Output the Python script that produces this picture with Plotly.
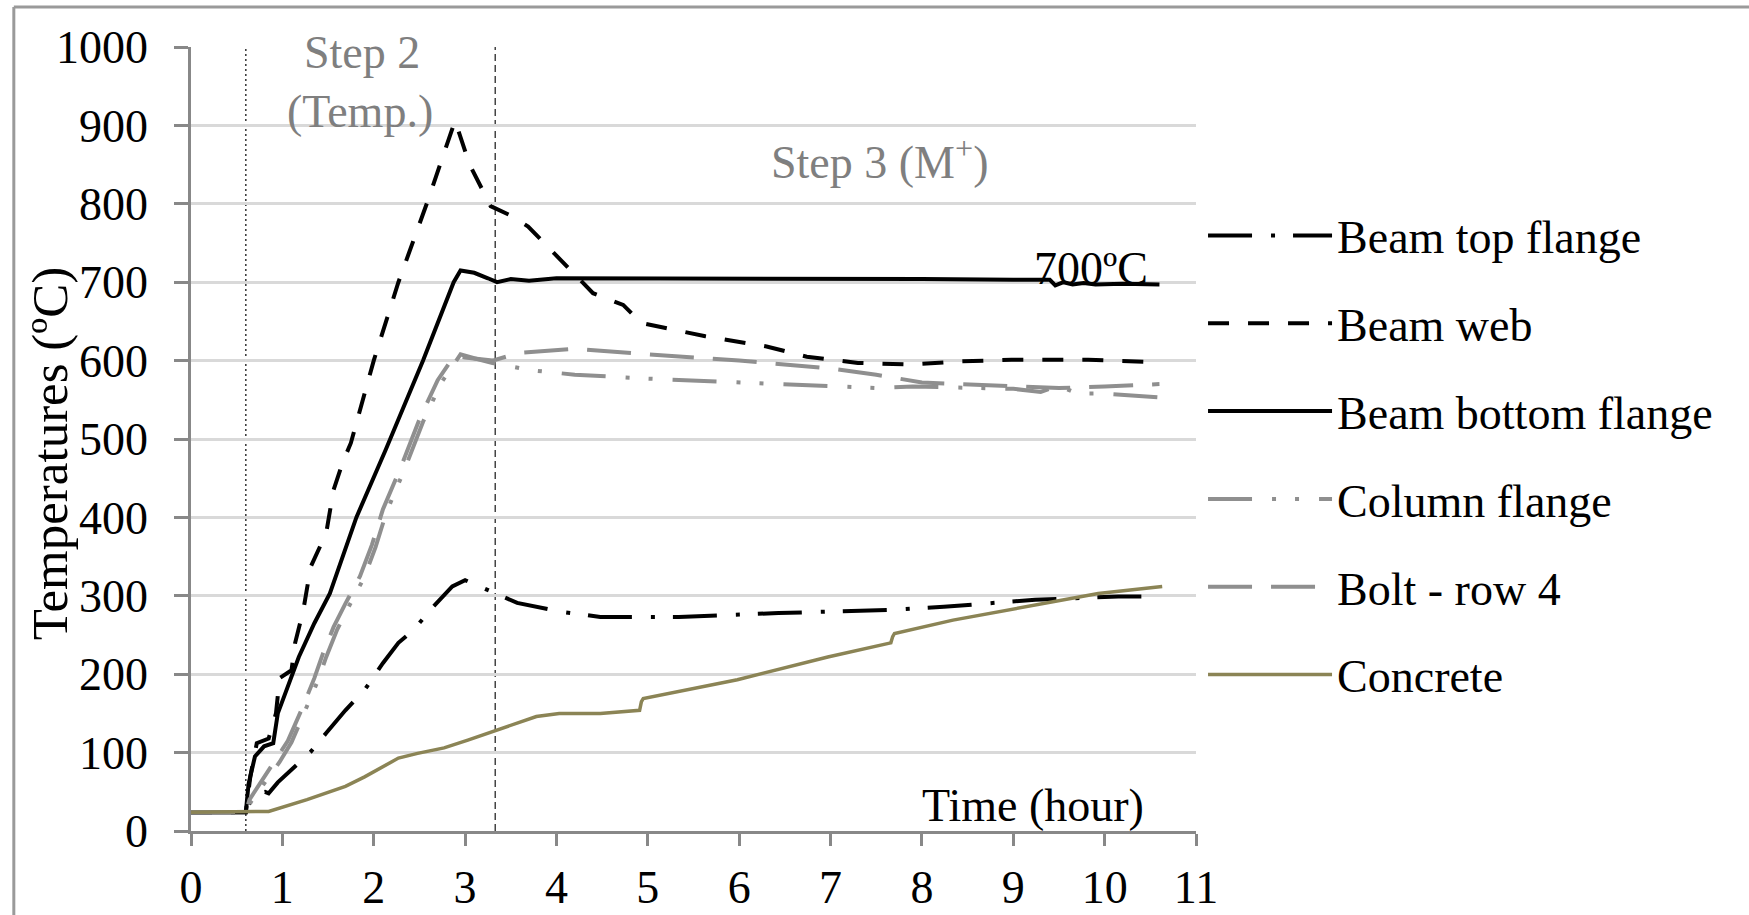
import plotly.graph_objects as go

# ---------------- data ----------------
top_t = [0, 0.6, 0.65, 0.72, 0.81, 0.85, 0.95, 1.10, 1.31, 1.48, 1.69, 1.90, 2.10, 2.27, 2.44, 2.65, 2.86,
         3.0, 3.1, 3.32, 3.57, 4.03, 4.48, 5.34, 6.43, 7.65, 8.24, 9.24, 10.15, 10.6]
top_v = [24, 24, 40, 48, 50, 48, 62, 78, 101, 125, 154, 180, 214, 240, 257, 286, 312,
         320, 315, 303, 291, 280, 273, 273, 278, 282, 286, 295, 299, 299]

web_t = [0, 0.6, 0.65, 0.72, 0.85, 0.93, 0.97, 1.10, 1.14, 1.23, 1.31, 1.48, 1.56, 1.66, 1.75, 1.79, 2.0,
         2.27, 2.58, 2.89, 3.05, 3.28, 3.5, 3.69, 4.11, 4.40, 4.73, 4.93, 5.63, 6.30, 6.74, 7.30, 7.86,
         8.42, 8.98, 9.82, 10.6]
web_v = [24, 24, 70, 112, 118, 150, 195, 205, 240, 282, 337, 380, 435, 470, 495, 512, 600,
         700, 800, 906, 850, 797, 785, 771, 720, 686, 671, 648, 631, 618, 605, 597, 595,
         599, 601, 601, 598]

bot_t = [0, 0.6, 0.63, 0.7, 0.8, 0.9, 0.95, 1.1, 1.18, 1.35, 1.52, 1.81, 2.13, 2.54, 2.875, 2.95, 3.1,
         3.25, 3.35, 3.5, 3.7, 4.0, 5.0, 6.0, 7.0, 8.0, 9.0, 9.4, 9.46, 9.55, 9.65, 9.77, 9.9, 10.2, 10.6]
bot_v = [24, 24, 60, 95, 108, 112, 150, 197, 222, 265, 303, 400, 486, 600, 700, 715, 712,
         705, 700, 704, 702, 705, 705, 705, 705, 704, 703, 703, 696, 700, 697, 699, 697, 698, 697]

col_t = [0, 0.6, 0.66, 0.85, 0.97, 1.1, 1.27, 1.39, 1.48, 1.6, 1.73, 1.89, 2.02, 2.14, 2.34, 2.54, 2.74,
         2.95, 3.1, 3.3, 3.7, 4.2, 5.0, 6.0, 7.0, 7.5, 7.9, 8.5, 9.0, 9.3, 9.5, 9.7, 10.0, 10.6]
col_v = [24, 24, 38, 68, 88, 113, 158, 192, 222, 257, 287, 322, 362, 407, 462, 522, 572,
         608, 603, 597, 588, 582, 577, 572, 567, 565, 567, 566, 564, 560, 568, 558, 558, 553]

bolt_t = [0, 0.6, 0.64, 0.81, 0.93, 1.06, 1.23, 1.35, 1.44, 1.56, 1.69, 1.85, 1.98, 2.10, 2.3, 2.5, 2.7,
          2.88, 3.0, 3.3, 3.6, 4.2, 5.0, 6.0, 7.0, 7.5, 8.0, 8.5, 9.0, 9.5, 10.0, 10.6]
bolt_v = [24, 24, 40, 70, 90, 115, 160, 195, 225, 260, 290, 325, 365, 410, 465, 525, 575,
          606, 604, 600, 610, 615, 608, 600, 590, 582, 572, 570, 568, 565, 567, 570]

conc_t = [0, 0.6, 0.85, 1.27, 1.69, 1.9, 2.10, 2.27, 2.48, 2.77, 3.03, 3.36, 3.78, 4.03, 4.48, 4.91, 4.93,
          4.95, 5.98, 6.97, 7.66, 7.68, 7.70, 8.34, 9.02, 9.93, 10.63]
conc_v = [24, 24, 25, 40, 57, 69, 82, 93, 99, 106, 116, 129, 146, 150, 150, 154, 165,
          169, 193, 222, 240, 248, 252, 269, 284, 303, 312]

x_ticks = list(range(0, 12))
y_ticks = list(range(0, 1001, 100))
step_lines = [0.6, 3.33]

FONT = "Liberation Serif, Times New Roman, serif"
FS = 46
GRAY = "#8f8f8f"

series = [
    ("Beam top flange", top_t, top_v, "black", "44px,19px,4px,18px", 4),
    ("Beam web", web_t, web_v, "black", "21px,19px", 4),
    ("Beam bottom flange", bot_t, bot_v, "black", "solid", 4),
    ("Column flange", col_t, col_v, GRAY, "44px,20px,4px,19px,4px,20px", 4),
    ("Bolt - row 4", bolt_t, bolt_v, GRAY, "44px,19px", 4),
    ("Concrete", conc_t, conc_v, "#8b8455", "solid", 3.5),
]

fig = go.Figure()
for name, t, v, c, d, w in series:
    fig.add_trace(go.Scatter(x=t, y=v, mode="lines", name=name, legendgroup=name,
                             line=dict(color=c, dash=d, width=w)))

# vertical step separators
fig.add_shape(type="line", xref="x", yref="y", x0=step_lines[0], x1=step_lines[0], y0=0, y1=1000,
              line=dict(color="#333333", width=1.5, dash="2px,3px"), layer="below")
fig.add_shape(type="line", xref="x", yref="y", x0=step_lines[1], x1=step_lines[1], y0=0, y1=1000,
              line=dict(color="#444444", width=1.5, dash="7px,4px"), layer="below")

# outer frame (top and left borders)
fig.add_shape(type="line", xref="paper", yref="paper", x0=-0.1763, x1=1.6, y0=1.051, y1=1.051,
              line=dict(color="#9a9a9a", width=3))
fig.add_shape(type="line", xref="paper", yref="paper", x0=-0.1763, x1=-0.1763, y0=-0.2, y1=1.051,
              line=dict(color="#9a9a9a", width=3))

ann = [
    dict(x=1.87, y=993, xref="x", yref="y", text="Step 2", font=dict(color="#7f7f7f", size=FS)),
    dict(x=1.85, y=918, xref="x", yref="y", text="(Temp.)", font=dict(color="#7f7f7f", size=FS)),
    dict(x=7.54, y=857, xref="x", yref="y", text="Step 3 (M<sup>+</sup>)", font=dict(color="#7f7f7f", size=FS)),
    dict(x=10.5, y=718, xref="x", yref="y", text="700ºC", xanchor="right", font=dict(color="black", size=FS)),
    dict(x=10.45, y=33, xref="x", yref="y", text="Time (hour)", xanchor="right", font=dict(color="black", size=FS)),
    dict(x=-0.14, y=0.481, xref="paper", yref="paper", text="Temperatures (ºC)", textangle=-90,
         font=dict(color="black", size=51)),
]
for a in ann:
    a.setdefault("xanchor", "center")
    a["yanchor"] = "middle"
    a["showarrow"] = False
    a["font"]["family"] = FONT
    fig.add_annotation(**a)

fig.update_layout(
    width=1749, height=915,
    margin=dict(l=191, r=553, t=47, b=84, pad=0, autoexpand=False),
    paper_bgcolor="white", plot_bgcolor="white",
    font=dict(family=FONT, size=FS, color="black"),
    showlegend=True,
    legend=dict(x=1.007, y=0.806, xanchor="left", yanchor="top", font=dict(family=FONT, size=FS),
                itemwidth=124, tracegroupgap=25, bgcolor="rgba(0,0,0,0)", traceorder="grouped"),
    xaxis=dict(range=[0, 11], tickvals=x_ticks, ticktext=[str(v) for v in x_ticks], automargin=False,
               showgrid=False, zeroline=False, showline=True, linecolor="#888888", linewidth=2.5,
               ticks="outside", ticklen=12, tickwidth=2.5, tickcolor="#888888",
               tickfont=dict(family=FONT, size=FS, color="black"), ticklabelstandoff=2),
    yaxis=dict(range=[0, 1000], tickvals=y_ticks, ticktext=[str(v) for v in y_ticks], automargin=False,
               showgrid=True, gridcolor="#d9d9d9", gridwidth=2.5, zeroline=False,
               showline=True, linecolor="#888888", linewidth=2.5,
               ticks="outside", ticklen=14, tickwidth=2.5, tickcolor="#888888",
               tickfont=dict(family=FONT, size=FS, color="black"), ticklabelstandoff=17),
)

fig.write_html("out.html")
